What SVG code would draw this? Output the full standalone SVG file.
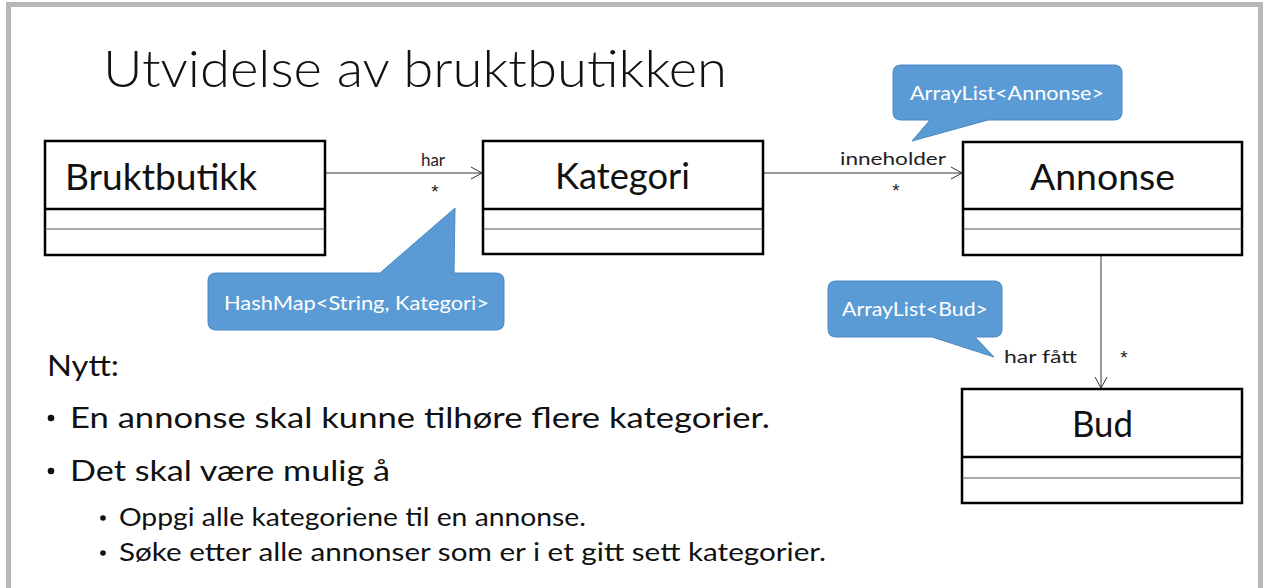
<svg xmlns="http://www.w3.org/2000/svg" width="1264" height="588" viewBox="0 0 1264 588">
<defs>
<marker id="open" markerWidth="14" markerHeight="14" refX="12" refY="7" orient="auto" markerUnits="userSpaceOnUse">
<path d="M1,1 L12,7 L1,13" fill="none" stroke="#333" stroke-width="1"/>
</marker>
</defs>
<style>
.frame{fill:#fff;stroke:#b8b8b8;stroke-width:5}
.box{fill:#fff;stroke:#000;stroke-width:2.5}
.div1{stroke:#000;stroke-width:2.5}
.div2{stroke:#555;stroke-width:1}
.cls{font-family:Lato,"Open Sans",sans-serif;font-size:36px;fill:#111}
.lbl{font-family:Lato,"Open Sans",sans-serif;font-size:17px;fill:#222}
.star{font-family:"Liberation Sans",Arial,sans-serif;font-size:19px;fill:#222}
.conn{stroke:#333;stroke-width:1;fill:none}
.call{fill:#5b9bd5;stroke:#4a86c0;stroke-width:1}
.ct{font-family:Lato,"Open Sans",sans-serif;font-size:19px;fill:#fff}
.title{font-family:Lato,"Open Sans",sans-serif;font-size:51px;font-weight:300;fill:#111}
.body{font-family:Lato,"Open Sans",sans-serif;font-size:28px;fill:#111}
.sub{font-family:Lato,"Open Sans",sans-serif;font-size:25px;fill:#111}
.dot{fill:#111}
</style>
<rect class="frame" x="8.5" y="4.5" width="1252" height="600"/>
<text class="title" x="103" y="87" textLength="624" lengthAdjust="spacingAndGlyphs">Utvidelse av bruktbutikken</text>

<g id="connectors">
<line class="conn" x1="326" y1="173" x2="482" y2="173" marker-end="url(#open)"/>
<text class="lbl" x="433" y="166" text-anchor="middle">har</text>
<text class="star" x="435" y="198" text-anchor="middle">*</text>
<line class="conn" x1="764" y1="173" x2="962" y2="173" marker-end="url(#open)"/>
<text class="lbl" x="893" y="165" text-anchor="middle" textLength="106" lengthAdjust="spacingAndGlyphs">inneholder</text>
<text class="star" x="896" y="197" text-anchor="middle">*</text>
<line class="conn" x1="1101" y1="256" x2="1101" y2="388" marker-end="url(#open)"/>
<text class="lbl" x="1004" y="363" textLength="73" lengthAdjust="spacingAndGlyphs">har fått</text>
<text class="star" x="1124" y="364" text-anchor="middle">*</text>
</g>

<g id="Bruktbutikk">
<rect class="box" x="45" y="141" width="280" height="114"/>
<line class="div1" x1="45" y1="209" x2="325" y2="209"/>
<line class="div2" x1="45" y1="229" x2="325" y2="229"/>
<text class="cls" x="65" y="190" textLength="192" lengthAdjust="spacingAndGlyphs">Bruktbutikk</text>
</g>
<g id="Kategori">
<rect class="box" x="483" y="141" width="280" height="113"/>
<line class="div1" x1="483" y1="209" x2="763" y2="209"/>
<line class="div2" x1="483" y1="229" x2="763" y2="229"/>
<text class="cls" x="555" y="189" textLength="135" lengthAdjust="spacingAndGlyphs">Kategori</text>
</g>
<g id="Annonse">
<rect class="box" x="963" y="142" width="279" height="113"/>
<line class="div1" x1="963" y1="209" x2="1242" y2="209"/>
<line class="div2" x1="963" y1="229" x2="1242" y2="229"/>
<text class="cls" x="1030" y="190" textLength="145" lengthAdjust="spacingAndGlyphs">Annonse</text>
</g>
<g id="Bud">
<rect class="box" x="962" y="389" width="280" height="114"/>
<line class="div1" x1="962" y1="457" x2="1242" y2="457"/>
<line class="div2" x1="962" y1="478" x2="1242" y2="478"/>
<text class="cls" x="1072" y="437" textLength="61" lengthAdjust="spacingAndGlyphs">Bud</text>
</g>

<g id="callout-annonse">
<path class="call" d="M901,65 H1114 Q1122,65 1122,73 V112 Q1122,120 1114,120 H988 L912,141 L930,120 H901 Q893,120 893,112 V73 Q893,65 901,65 Z"/>
<text class="ct" x="910" y="100" textLength="194" lengthAdjust="spacingAndGlyphs">ArrayList&lt;Annonse&gt;</text>
</g>
<g id="callout-hashmap">
<path class="call" d="M216,273 H380 L455,208 L454,273 H496 Q504,273 504,281 V322 Q504,330 496,330 H216 Q208,330 208,322 V281 Q208,273 216,273 Z"/>
<text class="ct" x="224" y="310" textLength="265" lengthAdjust="spacingAndGlyphs">HashMap&lt;String, Kategori&gt;</text>
</g>
<g id="callout-bud">
<path class="call" d="M836,281 H994 Q1002,281 1002,289 V329 Q1002,337 994,337 H975 L994,357 L932,337 H836 Q828,337 828,329 V289 Q828,281 836,281 Z"/>
<text class="ct" x="842" y="316" textLength="146" lengthAdjust="spacingAndGlyphs">ArrayList&lt;Bud&gt;</text>
</g>

<g id="text">
<text class="body" x="47" y="376" textLength="72" lengthAdjust="spacingAndGlyphs">Nytt:</text>
<circle class="dot" cx="51" cy="418" r="3.3"/>
<text class="body" x="70" y="428" textLength="700" lengthAdjust="spacingAndGlyphs">En annonse skal kunne tilhøre flere kategorier.</text>
<circle class="dot" cx="51" cy="471" r="3.3"/>
<text class="body" x="70" y="481" textLength="320" lengthAdjust="spacingAndGlyphs">Det skal være mulig å</text>
<circle class="dot" cx="103" cy="518" r="2.8"/>
<text class="sub" x="119" y="526" textLength="467" lengthAdjust="spacingAndGlyphs">Oppgi alle kategoriene til en annonse.</text>
<circle class="dot" cx="103" cy="553" r="2.8"/>
<text class="sub" x="119" y="561" textLength="707" lengthAdjust="spacingAndGlyphs">Søke etter alle annonser som er i et gitt sett kategorier.</text>
</g>
</svg>
